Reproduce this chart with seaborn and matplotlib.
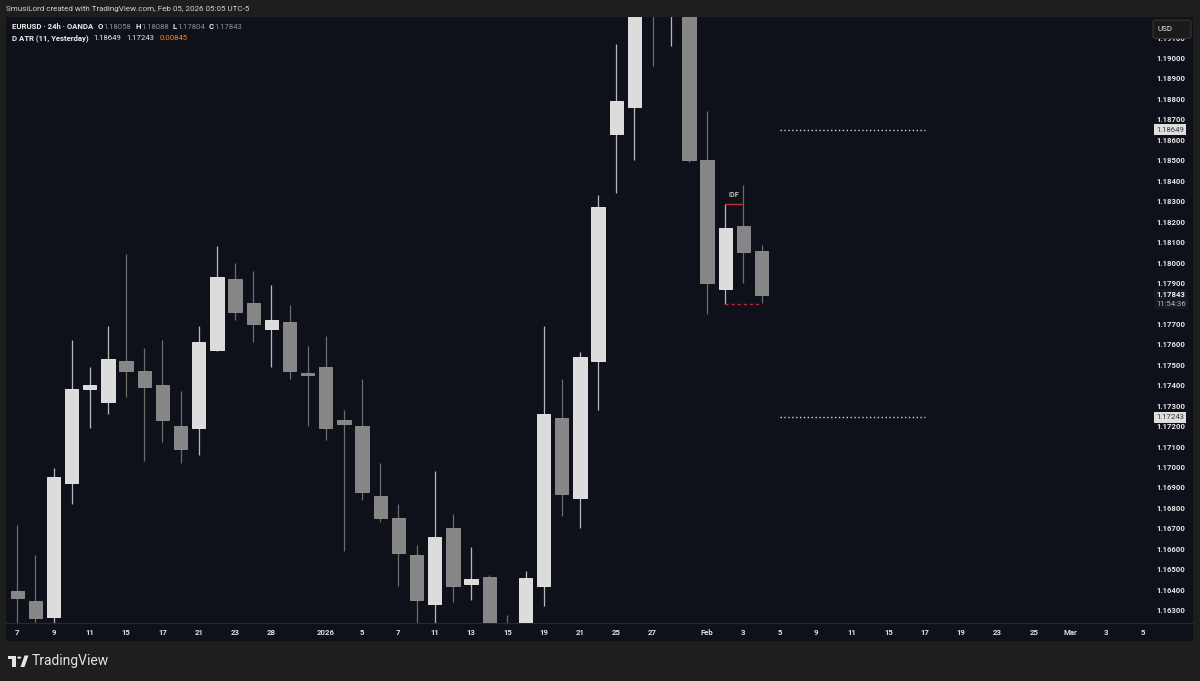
import numpy as np
import pandas as pd
import matplotlib
matplotlib.use('Agg')
import matplotlib.pyplot as plt
import matplotlib.transforms as mtransforms
from matplotlib.patches import Rectangle, FancyBboxPatch, Circle, Polygon
import seaborn as sns

# EURUSD 24h OANDA - grafikten okunan mum değerleri (yaklaşık)
opens = [1.16394, 1.16347, 1.16268, 1.1692, 1.1738, 1.1732, 1.1752, 1.1747, 1.1740, 1.1720,
         1.1719, 1.1757, 1.1792, 1.1780, 1.17675, 1.1771, 1.1746, 1.1749, 1.1723, 1.1720,
         1.1686, 1.1675, 1.1657, 1.1633, 1.1670, 1.1643, 1.1646, 1.1618, 1.1614, 1.1642,
         1.1724, 1.1685, 1.1752, 1.1863, 1.1876, 1.1975, 1.1960, 1.1975, 1.1850, 1.1787,
         1.1818, 1.18058]
highs = [1.16716, 1.1657, 1.16995, 1.1762, 1.1749, 1.1769, 1.1804, 1.1758, 1.1762, 1.1737,
         1.1769, 1.1808, 1.1800, 1.1796, 1.1789, 1.1779, 1.1759, 1.1764, 1.1728, 1.1743,
         1.1702, 1.1682, 1.1662, 1.1698, 1.1677, 1.1661, 1.1647, 1.16275, 1.1649, 1.1769,
         1.1743, 1.1756, 1.1833, 1.1907, 1.1990, 1.2080, 1.2010, 1.1990, 1.1874, 1.18285,
         1.1838, 1.18088]
lows = [1.1620, 1.1620, 1.1618, 1.1682, 1.1719, 1.1726, 1.1734, 1.1703, 1.1712, 1.1702,
        1.1706, 1.17565, 1.1772, 1.1761, 1.1749, 1.1743, 1.1720, 1.1713, 1.1659, 1.1684,
        1.1673, 1.1642, 1.1622, 1.1622, 1.1634, 1.1635, 1.1612, 1.1608, 1.1610, 1.1632,
        1.1676, 1.1670, 1.1728, 1.1834, 1.1850, 1.1896, 1.1906, 1.1849, 1.1775, 1.17795,
        1.1790, 1.17804]
closes = [1.16359, 1.1626, 1.1695, 1.1738, 1.1740, 1.1753, 1.1747, 1.1739, 1.1723, 1.1709,
          1.1761, 1.1793, 1.1776, 1.1770, 1.1772, 1.1747, 1.1745, 1.1719, 1.1721, 1.1688,
          1.1675, 1.1658, 1.1635, 1.1666, 1.1642, 1.1645, 1.1618, 1.1612, 1.16456, 1.1726,
          1.1687, 1.1754, 1.1827, 1.1879, 1.1975, 1.1960, 1.1975, 1.1850, 1.1790, 1.1817,
          1.1805, 1.17843]

# seans takvimi (Paz-Per mumları)
first_session = '2025-12-07'
last_session = '2026-03-05'
holidays = ['2025-12-25', '2025-12-31']
tick_dates = ['2025-12-07', '2025-12-09', '2025-12-11', '2025-12-15', '2025-12-17', '2025-12-21',
              '2025-12-23', '2025-12-28', '2026-01-01', '2026-01-05', '2026-01-07', '2026-01-11',
              '2026-01-13', '2026-01-15', '2026-01-19', '2026-01-21', '2026-01-25', '2026-01-27',
              '2026-02-01', '2026-02-03', '2026-02-05', '2026-02-09', '2026-02-11', '2026-02-15',
              '2026-02-17', '2026-02-19', '2026-02-23', '2026-02-25', '2026-03-01', '2026-03-03',
              '2026-03-05']

# D ATR seviyeleri
atr_high = 1.18649
atr_low = 1.17243
atr_value = 0.00845
level_start = '2026-02-05'
level_end = '2026-02-17'
idf_candle = 39
countdown = '11:54:36'

W, H = 1200, 681
BG = '#1e1e1e'
PANEL = '#0f111a'
WHITE_BODY = '#dcdcdc'
GRAY_BODY = '#868686'

sns.set_theme(style='dark')
plt.rcParams['font.family'] = ['Roboto', 'DejaVu Sans']


def fx(x):
    return x / W


def fy(y):
    return 1 - y / H


sessions = pd.bdate_range(first_session, last_session, freq='C',
                          weekmask='Sun Mon Tue Wed Thu', holidays=holidays)
pos = {d: i for i, d in enumerate(sessions)}

fig = plt.figure(figsize=(W / 100, H / 100), dpi=100, facecolor=BG)

# grafik paneli
fig.patches.append(Rectangle((fx(6), fy(641)), fx(1193) - fx(6), fy(17) - fy(641),
                             transform=fig.transFigure, fc=PANEL, ec='none', zorder=-10))
fig.lines.append(plt.Line2D([fx(6), fx(1193)], [fy(623), fy(623)], transform=fig.transFigure,
                            color='#262a35', lw=0.8, zorder=-5))

ax = fig.add_axes([fx(7), fy(623), fx(1148) - fx(7), fy(17) - fy(623)])
ax.set_facecolor(PANEL)
for s in ax.spines.values():
    s.set_visible(False)
ax.grid(False)

n = len(opens)
xs = np.arange(n)
for i in range(n):
    o, h, l, c = opens[i], highs[i], lows[i], closes[i]
    up = c >= o
    body = WHITE_BODY if up else GRAY_BODY
    edge = '#f2f2f2' if up else '#939393'
    wick = '#b8b8b8' if up else '#6c6c6c'
    ax.vlines(xs[i], l, h, color=wick, lw=0.9, zorder=2)
    ax.bar(xs[i], abs(c - o), bottom=min(o, c), width=0.73, color=body,
           edgecolor=edge, linewidth=0.6, zorder=3)

# ATR seviyeleri (noktalı)
for lvl in [atr_high, atr_low]:
    sns.lineplot(x=[pos[pd.Timestamp(level_start)], pos[pd.Timestamp(level_end)]], y=[lvl, lvl],
                 ax=ax, color='#d8d8d8', lw=1.0, linestyle=(0, (1, 1.8)), zorder=4)

# IDF
ax.plot([idf_candle, idf_candle + 1], [highs[idf_candle]] * 2, color='#c3283c', lw=1.0, zorder=4)
ax.annotate('IDF', (idf_candle + 0.5, highs[idf_candle]), xytext=(0, 3.5), textcoords='offset points',
            ha='center', va='bottom', fontsize=5.2, color='#c4c4c4', fontweight='bold')
ax.plot([idf_candle, n - 1], [lows[idf_candle]] * 2, color='#c3283c', lw=1.0,
        linestyle=(0, (2.2, 2.2)), zorder=4)

ax.set_xlim(-0.562, 62.29)
ax.set_ylim(1.162372, 1.192005)

ticks = [pos[pd.Timestamp(d)] for d in tick_dates]
labels = []
for d in tick_dates:
    t = pd.Timestamp(d)
    if t.day == 1 and t.month == 1:
        labels.append(str(t.year))
    elif t.day == 1:
        labels.append(t.strftime('%b'))
    else:
        labels.append(str(t.day))
ax.set_xticks(ticks)
ax.set_xticklabels(labels)

price_ticks = np.round(np.arange(1.163, 1.1915, 0.001), 3)
ax.set_yticks(price_ticks)
ax.set_yticklabels([f'{p:.5f}' for p in price_ticks])
ax.yaxis.tick_right()
ax.tick_params(axis='y', length=0, pad=6, labelsize=5.6, labelcolor='#e6e6e6')
ax.tick_params(axis='x', length=0, pad=4, labelsize=5.6, labelcolor='#e0e0e0')
for t in ax.get_yticklabels():
    t.set_fontweight('bold')
for t in ax.get_xticklabels():
    t.set_fontweight('bold')

# sağ eksendeki fiyat kutuları
tr = mtransforms.blended_transform_factory(ax.transAxes, ax.transData)
lx = (1156 - 7) / (1148 - 7)
for lvl in [atr_high, atr_low]:
    ax.text(lx, lvl, f'{lvl:.5f}', transform=tr, ha='left', va='center', fontsize=5.6,
            color='#3a3a3a', clip_on=False, zorder=6,
            bbox=dict(boxstyle='square,pad=0.3', fc='#dedede', ec='none'))
ax.text(lx, closes[-1], f'{closes[-1]:.5f}', transform=tr, ha='left', va='center', fontsize=5.6,
        color='#f0f0f0', fontweight='bold', clip_on=False, zorder=6,
        bbox=dict(boxstyle='square,pad=0.3', fc='#161923', ec='none'))
ax.annotate(countdown, (lx, closes[-1]), xycoords=tr, xytext=(0, -6.5), textcoords='offset points',
            ha='left', va='center', fontsize=5.6, color='#b0b3bb', annotation_clip=False,
            bbox=dict(boxstyle='square,pad=0.3', fc='#161923', ec='none'))

# USD kutusu
fig.patches.append(FancyBboxPatch((fx(1153), fy(38.5)), fx(1191) - fx(1153), fy(20) - fy(38.5),
                                  boxstyle='round,pad=0,rounding_size=0.003',
                                  transform=fig.transFigure, fc='#1b1b1b', ec='#3a3a3a',
                                  lw=0.7, zorder=10))
fig.text(fx(1158), fy(29), 'USD', fontsize=5.8, color='#e6e6e6', va='center', ha='left', zorder=11)

# başlık metinleri
renderer = fig.canvas.get_renderer()


def chain(x, y, parts, size):
    for s, color, weight, gap in parts:
        t = fig.text(fx(x), fy(y), s, color=color, fontsize=size, fontweight=weight,
                     va='center', ha='left')
        x = t.get_window_extent(renderer).x1 + gap


fig.text(fx(6.5), fy(9), 'SmusiLord created with TradingView.com, Feb 05, 2026 05:05 UTC-5',
         fontsize=5.8, color='#d2d2d2', va='center', ha='left')

val = '#8e9099'
chain(11.7, 26.7, [('EURUSD · 24h · OANDA', '#eeeeee', 'bold', 5),
                   ('O', '#eeeeee', 'bold', 0.3), (f'{opens[-1]:.5f}', val, 'normal', 4),
                   ('H', '#eeeeee', 'bold', 0.3), (f'{highs[-1]:.5f}', val, 'normal', 4),
                   ('L', '#eeeeee', 'bold', 0.3), (f'{lows[-1]:.5f}', val, 'normal', 4),
                   ('C', '#eeeeee', 'bold', 0.3), (f'{closes[-1]:.5f}', val, 'normal', 0)], 5.6)
chain(11.7, 38.3, [('D ATR (11, Yesterday)', '#eeeeee', 'bold', 5),
                   (f'{atr_high:.5f}', '#e6e6e6', 'normal', 5),
                   (f'{atr_low:.5f}', '#e6e6e6', 'normal', 5),
                   (f'{atr_value:.5f}', '#f08a1c', 'normal', 0)], 5.6)

# TradingView logosu
lc = '#e4e4e4'
fig.patches.append(Rectangle((fx(8), fy(659)), fx(16) - fx(8), fy(655.5) - fy(659),
                             transform=fig.transFigure, fc=lc, ec='none'))
fig.patches.append(Rectangle((fx(12.3), fy(667)), fx(16) - fx(12.3), fy(655.5) - fy(667),
                             transform=fig.transFigure, fc=lc, ec='none'))
fig.patches.append(Circle((fx(19.2), fy(657.6)), 2.0 / W, transform=fig.transFigure, fc=lc, ec='none'))
fig.patches.append(Polygon([(fx(20.5), fy(667)), (fx(24.5), fy(655.5)), (fx(28.5), fy(655.5)),
                            (fx(24.5), fy(667))], closed=True, transform=fig.transFigure,
                           fc=lc, ec='none'))
fig.text(fx(32), fy(661.5), 'TradingView', fontsize=10, color=lc, va='center', ha='left')

fig.savefig('out.png', dpi=100, facecolor=BG)
